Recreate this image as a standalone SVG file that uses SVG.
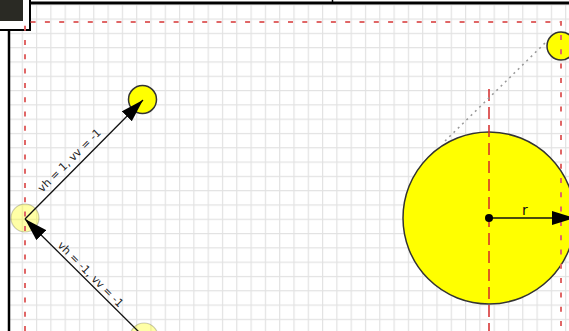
<svg xmlns="http://www.w3.org/2000/svg" width="569" height="331" viewBox="0 0 569 331">
<style>
.lbl{font-family:"DejaVu Sans",sans-serif;font-size:11px;fill:#222}
.rl{font-family:"DejaVu Sans",sans-serif;font-size:14px;fill:#111}
.ball{fill:#ffff00;stroke:#333;stroke-width:1.5}
.ghost{fill:#ffff00;fill-opacity:0.35;stroke:#333;stroke-opacity:0.25;stroke-width:1.2}
.guide{fill:none;stroke:#e06666;stroke-width:2;stroke-dasharray:5 9.3}
.conn{stroke:#111;stroke-width:1.3;fill:none}
</style>
<defs>
<pattern id="grid" patternUnits="userSpaceOnUse" x="7.4" y="4.2" width="14.3" height="14.3">
<path d="M0.6 0 V14.3 M0 0.6 H14.3" stroke="#e2e2e2" stroke-width="1.2" fill="none"/>
</pattern>
<marker id="ah" markerUnits="userSpaceOnUse" viewBox="0 0 23 14" refX="23" refY="7" markerWidth="23" markerHeight="14" orient="auto">
<path d="M0,0 L23,7 L0,14 z" fill="#000"/>
</marker>
</defs>
<rect x="0" y="0" width="569" height="331" fill="#fff"/>
<rect x="10" y="5" width="559" height="326" fill="url(#grid)"/>
<!-- frame -->
<rect x="30" y="1.5" width="539" height="3" fill="#000"/>
<line x1="332.5" y1="0" x2="332.5" y2="3" stroke="#000" stroke-width="1.5"/>
<line x1="9" y1="30" x2="9" y2="331" stroke="#000" stroke-width="2.5"/>
<rect x="-2" y="-2" width="32" height="32" fill="#fff" stroke="#000" stroke-width="2"/>
<rect x="0" y="0" width="23" height="21" fill="#2a2a24"/>
<!-- nodes -->
<g id="big-circle"><circle class="ball" cx="489" cy="218" r="86"/></g>
<g id="corner-ball"><circle class="ball" cx="561" cy="46" r="14"/></g>
<g id="ball-top"><circle class="ball" cx="142.5" cy="99.5" r="14"/></g>
<g id="ball-left"><circle class="ghost" cx="25" cy="218" r="14"/></g>
<g id="ball-bottom"><circle class="ghost" cx="144" cy="337" r="14"/></g>
<!-- guides -->
<g id="guides">
<path class="guide" d="M25 331 V22 H561 V331"/>
<line x1="489" y1="89" x2="489" y2="331" stroke="#d42a2a" stroke-width="1.5" stroke-dasharray="12 6"/>
<line x1="545" y1="43" x2="443" y2="143" stroke="#999" stroke-width="1.5" stroke-dasharray="2 4"/>
</g>
<!-- connectors -->
<g id="connectors">
<line class="conn" x1="25" y1="219" x2="143" y2="100" marker-end="url(#ah)"/>
<line class="conn" x1="144" y1="337" x2="25" y2="219" marker-end="url(#ah)"/>
<line class="conn" x1="489" y1="218" x2="575" y2="218" marker-end="url(#ah)"/>
<circle cx="489" cy="218" r="4" fill="#000"/>
<text class="lbl" text-anchor="middle" transform="translate(72 163) rotate(-45)">vh = 1, vv = -1</text>
<text class="lbl" text-anchor="middle" transform="translate(88 277) rotate(45)">vh = -1, vv = -1</text>
<text class="rl" x="525" y="215" text-anchor="middle">r</text>
</g>
</svg>
